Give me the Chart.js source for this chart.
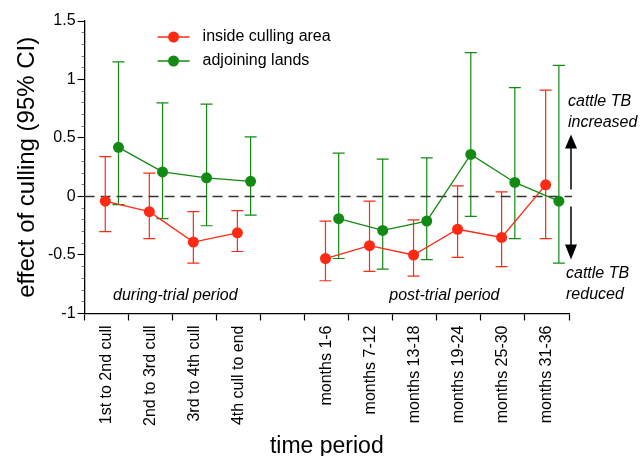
<!DOCTYPE html>
<html>
<head>
<meta charset="utf-8">
<script src="https://cdn.jsdelivr.net/npm/chart.js@4.4.0/dist/chart.umd.min.js"></script>
<style>
  body { margin: 0; background: #fff; }
  #wrap { position: relative; width: 641px; height: 456px; }
</style>
</head>
<body>
<div id="wrap"><canvas id="cullChart"></canvas></div>
<script>
// time periods (slot 4 is the empty gap between the two periods)
const categories = [
  "1st to 2nd cull", "2nd to 3rd cull", "3rd to 4th cull", "4th cull to end", "",
  "months 1-6", "months 7-12", "months 13-18", "months 19-24", "months 25-30", "months 31-36"
];

// inside culling area: estimate and 95% CI
const insideEffect = [-0.04, -0.13, -0.39, -0.31, null, -0.53, -0.42, -0.50, -0.28, -0.35, 0.10];
const insideLow    = [-0.30, -0.36, -0.57, -0.47, null, -0.72, -0.64, -0.68, -0.52, -0.60, -0.36];
const insideHigh   = [ 0.34,  0.20, -0.13, -0.12, null, -0.21, -0.04, -0.20,  0.09,  0.04,  0.91];

// adjoining lands: estimate and 95% CI
const adjoinEffect = [ 0.42,  0.21,  0.16,  0.13, null, -0.19, -0.29, -0.21,  0.36,  0.12, -0.04];
const adjoinLow    = [-0.07, -0.19, -0.25, -0.16, null, -0.53, -0.62, -0.54, -0.17, -0.36, -0.57];
const adjoinHigh   = [ 1.15,  0.80,  0.79,  0.51, null,  0.37,  0.32,  0.33,  1.23,  0.93,  1.12];

const yTickLabels = ["-1", "-0.5", "0", "0.5", "1", "1.5"];

const RED = "#ff2a14";
const GREEN = "#138a13";
const RED_SHIFT = 0.47;   // position of the point inside its slot
const GREEN_SHIFT = 0.77;

Chart.defaults.font.family = "'Liberation Sans', Arial, sans-serif";
Chart.defaults.color = "#000";

const toPoints = (vals, shift) => vals.map((v, i) => ({ x: i + shift, y: v }));

const extras = {
  id: "extras",
  beforeDatasetsDraw(chart) {
    const { ctx, scales: { x, y } } = chart;
    const bars = [
      { low: insideLow, high: insideHigh, shift: RED_SHIFT, color: RED },
      { low: adjoinLow, high: adjoinHigh, shift: GREEN_SHIFT, color: GREEN }
    ];
    ctx.save();
    ctx.lineWidth = 1.2;
    bars.forEach((b) => {
      ctx.strokeStyle = b.color;
      b.low.forEach((lo, i) => {
        if (lo === null) return;
        const px = x.getPixelForValue(i + b.shift);
        const y1 = y.getPixelForValue(lo);
        const y2 = y.getPixelForValue(b.high[i]);
        ctx.beginPath();
        ctx.moveTo(px, y1); ctx.lineTo(px, y2);
        ctx.moveTo(px - 6, y1); ctx.lineTo(px + 6, y1);
        ctx.moveTo(px - 6, y2); ctx.lineTo(px + 6, y2);
        ctx.stroke();
      });
    });
    ctx.restore();
  },
  afterDraw(chart) {
    const { ctx, chartArea: area, scales: { x, y } } = chart;
    ctx.save();

    // legend inside the plot
    const lx = area.left + 73;
    chart.data.datasets.slice(0, 2).forEach((ds, i) => {
      const ly = area.top + 16 + i * 24;
      ctx.strokeStyle = ds.borderColor;
      ctx.lineWidth = 1.3;
      ctx.beginPath();
      ctx.moveTo(lx, ly); ctx.lineTo(lx + 32, ly);
      ctx.stroke();
      ctx.fillStyle = ds.backgroundColor;
      ctx.beginPath();
      ctx.arc(lx + 16, ly, 5.5, 0, Math.PI * 2);
      ctx.fill();
      ctx.fillStyle = "#000";
      ctx.font = "16px 'Liberation Sans', Arial, sans-serif";
      ctx.textBaseline = "middle";
      ctx.textAlign = "left";
      ctx.fillText(ds.label, lx + 45, ly);
    });

    // period labels
    ctx.font = "italic 16px 'Liberation Sans', Arial, sans-serif";
    ctx.textAlign = "center";
    ctx.fillText("during-trial period", x.getPixelForValue(2.06), y.getPixelForValue(-0.85));
    ctx.fillText("post-trial period", x.getPixelForValue(8.17), y.getPixelForValue(-0.85));

    // direction notes and arrows
    const zy = y.getPixelForValue(0);
    const ax = area.right + 2;
    ctx.textAlign = "left";
    ctx.fillText("cattle TB", area.right - 1, zy - 95);
    ctx.fillText("increased", area.right - 1, zy - 74);
    ctx.fillText("cattle TB", area.right - 3, zy + 77);
    ctx.fillText("reduced", area.right - 3, zy + 98);

    ctx.strokeStyle = "#000";
    ctx.fillStyle = "#000";
    ctx.lineWidth = 1.5;
    ctx.beginPath();
    ctx.moveTo(ax, zy - 7); ctx.lineTo(ax, zy - 50);
    ctx.moveTo(ax, zy + 10); ctx.lineTo(ax, zy + 50);
    ctx.stroke();
    ctx.beginPath();
    ctx.moveTo(ax, zy - 62); ctx.lineTo(ax - 6, zy - 48); ctx.lineTo(ax + 6, zy - 48);
    ctx.closePath();
    ctx.fill();
    ctx.beginPath();
    ctx.moveTo(ax, zy + 63); ctx.lineTo(ax - 6, zy + 48); ctx.lineTo(ax + 6, zy + 48);
    ctx.closePath();
    ctx.fill();
    ctx.restore();
  }
};

new Chart(document.getElementById("cullChart"), {
  type: "line",
  data: {
    datasets: [
      {
        label: "inside culling area",
        data: toPoints(insideEffect, RED_SHIFT),
        borderColor: RED,
        backgroundColor: RED,
        borderWidth: 1.3,
        pointRadius: 5.5,
        pointBorderWidth: 0,
        spanGaps: false,
        order: 1
      },
      {
        label: "adjoining lands",
        data: toPoints(adjoinEffect, GREEN_SHIFT),
        borderColor: GREEN,
        backgroundColor: GREEN,
        borderWidth: 1.3,
        pointRadius: 5.5,
        pointBorderWidth: 0,
        spanGaps: false,
        order: 0
      },
      {
        label: "zero",
        data: [{ x: 0, y: 0 }, { x: 11.07, y: 0 }],
        borderColor: "#333",
        borderWidth: 1.5,
        borderDash: [10, 6],
        pointRadius: 0,
        clip: false,
        order: 2
      }
    ]
  },
  options: {
    responsive: true,
    maintainAspectRatio: false,
    animation: false,
    layout: { padding: { left: 11, right: 72, top: 21, bottom: 1 } },
    plugins: { legend: { display: false }, tooltip: { enabled: false } },
    scales: {
      x: {
        type: "linear",
        min: 0,
        max: 11,
        afterBuildTicks: (axis) => {
          axis.ticks = [];
          for (let k = 0; k <= 22; k++) axis.ticks.push({ value: k / 2 });
        },
        ticks: {
          autoSkip: false,
          minRotation: 90,
          maxRotation: 90,
          padding: 5,
          font: { size: 16 },
          callback: (v) => (v % 1 === 0.5 ? categories[Math.floor(v)] : "")
        },
        grid: {
          drawOnChartArea: false,
          tickLength: 7,
          tickWidth: 1.2,
          tickColor: (c) => (c.tick && c.tick.value % 1 === 0 ? "#000" : "rgba(0,0,0,0)")
        },
        border: { display: true, color: "#000", width: 1.3 },
        title: {
          display: true,
          text: "time period",
          font: { size: 23, lineHeight: 1 },
          padding: { top: 4, bottom: -3 }
        }
      },
      y: {
        min: -1,
        max: 1.5,
        afterBuildTicks: (axis) => {
          axis.ticks = [];
          for (let k = -10; k <= 15; k++) axis.ticks.push({ value: k / 10 });
        },
        ticks: {
          autoSkip: false,
          padding: 2,
          font: { size: 16 },
          callback: (v) => {
            const s = String(Math.round(v * 10) / 10);
            return yTickLabels.includes(s) ? s : "";
          }
        },
        grid: {
          drawOnChartArea: false,
          tickLength: 7,
          tickWidth: 1.1,
          tickColor: (c) => (c.tick && Math.round(c.tick.value * 10) % 5 === 0 ? "#000" : "#777"),
          tickBorderDash: (c) => (c.tick && Math.round(c.tick.value * 10) % 5 === 0 ? [] : [0, 4, 3, 20])
        },
        border: { display: true, color: "#000", width: 1.3 },
        title: {
          display: true,
          text: "effect of culling (95% CI)",
          font: { size: 24, lineHeight: 1 },
          padding: { top: 4, bottom: 7 }
        }
      }
    }
  },
  plugins: [extras]
});
</script>
</body>
</html>
